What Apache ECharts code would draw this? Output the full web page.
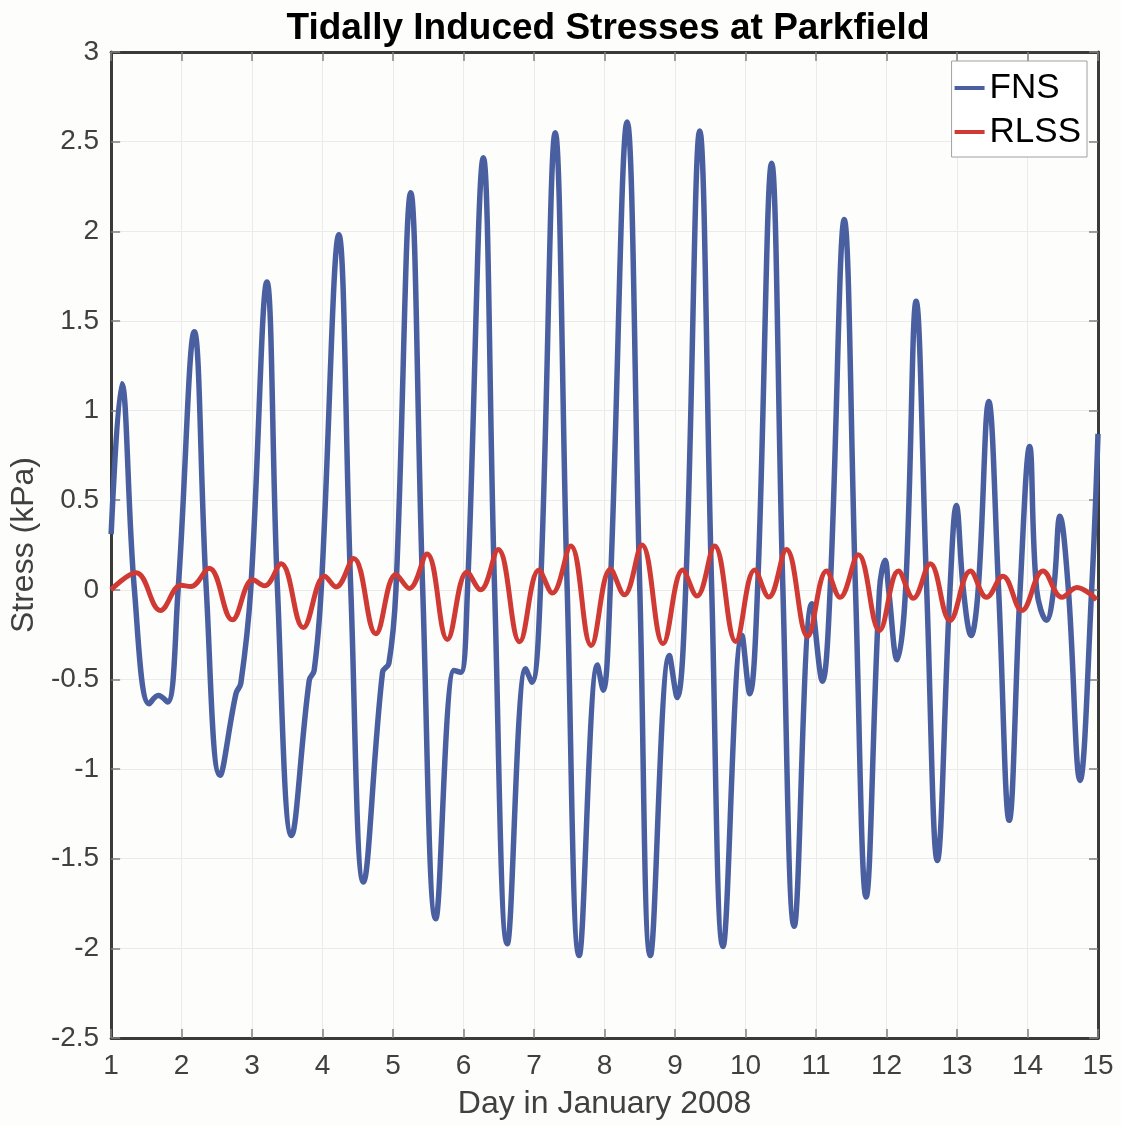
<!DOCTYPE html>
<html>
<head>
<meta charset="utf-8">
<script src="https://cdn.jsdelivr.net/npm/echarts@6/dist/echarts.min.js"></script>
<style>
  html, body { margin: 0; padding: 0; background: #fdfdfb; }
  #chart { width: 1121px; height: 1125px; }
</style>
</head>
<body>
<div id="chart"></div>
<script>
// [day, stress kPa]: extremes, shoulders and zero crossings
const fnsData = [
  [1.00, 0.31], [1.15, 1.15], [1.33, 0.0], [1.54, -0.636], [1.67, -0.59], [1.80, -0.626],
  [1.95, 0.0], [2.18, 1.44], [2.35, 0.0], [2.545, -1.035], [2.77, -0.58], [2.84, -0.52],
  [2.98, 0.0], [3.21, 1.717], [3.36, 0.0], [3.56, -1.37], [3.81, -0.505], [3.88, -0.45],
  [3.98, 0.0], [4.23, 1.98], [4.40, 0.0], [4.58, -1.63], [4.85, -0.46], [4.94, -0.41],
  [5.04, 0.0], [5.25, 2.215], [5.42, 0.0], [5.605, -1.835], [5.865, -0.45], [5.96, -0.46],
  [6.055, 0.0], [6.28, 2.41], [6.44, 0.0], [6.62, -1.974], [6.88, -0.44], [6.97, -0.515],
  [7.09, 0.0], [7.30, 2.55], [7.47, 0.0], [7.64, -2.04], [7.90, -0.42], [7.98, -0.56],
  [8.08, 0.0], [8.32, 2.61], [8.50, 0.0], [8.65, -2.04], [8.92, -0.366], [9.03, -0.60],
  [9.15, 0.0], [9.35, 2.56], [9.52, 0.0], [9.68, -1.99], [9.95, -0.255], [10.06, -0.58],
  [10.17, 0.0], [10.37, 2.38], [10.53, 0.0], [10.69, -1.877], [10.94, -0.078], [11.09, -0.51],
  [11.20, 0.0], [11.40, 2.065], [11.56, 0.0], [11.71, -1.714], [11.90, 0.0], [11.98, 0.165],
  [12.03, 0.0], [12.15, -0.39], [12.27, 0.0], [12.42, 1.61], [12.57, 0.0], [12.72, -1.51],
  [12.90, 0.0], [12.99, 0.47], [13.09, 0.0], [13.20, -0.255], [13.30, 0.0], [13.45, 1.05],
  [13.59, 0.0], [13.74, -1.286], [13.895, 0.0], [14.03, 0.80], [14.13, 0.0], [14.27, -0.17],
  [14.37, 0.0], [14.46, 0.41], [14.58, 0.0], [14.745, -1.063], [14.91, 0.0], [15.00, 0.87]
]

const rlssData = [
  [1.00, 0.0], [1.354, 0.095], [1.70, -0.115], [1.99, 0.026], [2.13, 0.018], [2.39, 0.12],
  [2.72, -0.167], [3.01, 0.056], [3.175, 0.022], [3.41, 0.145], [3.725, -0.21], [4.03, 0.076],
  [4.19, 0.016], [4.44, 0.175], [4.755, -0.245], [5.04, 0.086], [5.23, 0.008], [5.48, 0.2],
  [5.77, -0.277], [6.05, 0.1], [6.24, 0.0], [6.49, 0.225], [6.795, -0.29], [7.07, 0.11],
  [7.26, -0.018], [7.52, 0.245], [7.81, -0.31], [8.085, 0.115], [8.28, -0.028], [8.53, 0.25],
  [8.83, -0.30], [9.11, 0.11], [9.31, -0.035], [9.56, 0.245], [9.86, -0.288], [10.13, 0.11],
  [10.33, -0.04], [10.58, 0.225], [10.88, -0.26], [11.15, 0.105], [11.34, -0.042], [11.60, 0.195],
  [11.90, -0.227], [12.17, 0.105], [12.38, -0.047], [12.62, 0.145], [12.90, -0.171], [13.19, 0.105],
  [13.42, -0.042], [13.65, 0.076], [13.92, -0.115], [14.22, 0.105], [14.49, -0.042], [14.70, 0.013],
  [14.98, -0.055]
]

const seriesNames = ['FNS', 'RLSS']
const xRange = [1, 15]
const yRange = [-2.5, 3]

const chart = echarts.init(document.getElementById('chart'))
const font = 'Liberation Sans, Arial, sans-serif'
const frame = { show: true, onZero: false, lineStyle: { color: '#3a3a3a', width: 3 } }
const ticks = { show: true, inside: true, length: 9, lineStyle: { color: '#808080', width: 1.5 } }

const option = {
  animation: false,
  backgroundColor: '#fdfdfb',
  title: {
    text: 'Tidally Induced Stresses at Parkfield',
    left: 603,
    textAlign: 'center',
    top: 5,
    textStyle: { fontFamily: font, fontSize: 37, fontWeight: 'bold', color: '#000' }
  },
  legend: {
    data: seriesNames,
    orient: 'vertical',
    right: 34,
    top: 61,
    icon: 'rect',
    itemWidth: 30,
    itemHeight: 4,
    itemGap: 4,
    padding: [7, 6, 5, 3],
    backgroundColor: '#fff',
    borderColor: '#a0a0a0',
    borderWidth: 1,
    borderRadius: 0,
    textStyle: { fontFamily: font, fontSize: 35, lineHeight: 40, color: '#000' }
  },
  grid: { left: 110, right: 23, top: 52, bottom: 87 },
  xAxis: [{
    type: 'value',
    min: xRange[0],
    max: xRange[1],
    interval: 1,
    name: 'Day in January 2008',
    nameLocation: 'middle',
    nameGap: 50,
    nameTextStyle: { fontFamily: font, fontSize: 32, color: '#404040' },
    axisLine: frame,
    axisTick: ticks,
    axisLabel: { fontFamily: font, fontSize: 28, color: '#404040', margin: 14 },
    splitLine: { show: true, lineStyle: { color: '#ebebeb', width: 1 } }
  }, {
    type: 'value',
    position: 'top',
    min: xRange[0],
    max: xRange[1],
    interval: 1,
    axisLine: frame,
    axisTick: ticks,
    axisLabel: { show: false },
    splitLine: { show: false }
  }],
  yAxis: [{
    type: 'value',
    min: yRange[0],
    max: yRange[1],
    interval: 0.5,
    name: 'Stress (kPa)',
    nameLocation: 'middle',
    nameGap: 67,
    nameTextStyle: { fontFamily: font, fontSize: 32, color: '#404040' },
    axisLine: frame,
    axisTick: ticks,
    axisLabel: { fontFamily: font, fontSize: 28, color: '#404040', margin: 12 },
    splitLine: { show: true, lineStyle: { color: '#ebebeb', width: 1 } }
  }, {
    type: 'value',
    position: 'right',
    min: yRange[0],
    max: yRange[1],
    interval: 0.5,
    axisLine: frame,
    axisTick: ticks,
    axisLabel: { show: false },
    splitLine: { show: false }
  }],
  series: [{
    name: seriesNames[0],
    type: 'line',
    data: fnsData,
    smooth: 0.4,
    showSymbol: false,
    lineStyle: { color: '#4a5fa0', width: 5.5 },
    itemStyle: { color: '#4a5fa0' }
  }, {
    name: seriesNames[1],
    type: 'line',
    data: rlssData,
    smooth: 0.4,
    showSymbol: false,
    lineStyle: { color: '#cf3a35', width: 5 },
    itemStyle: { color: '#cf3a35' }
  }]
}

chart.setOption(option)
</script>
</body>
</html>
